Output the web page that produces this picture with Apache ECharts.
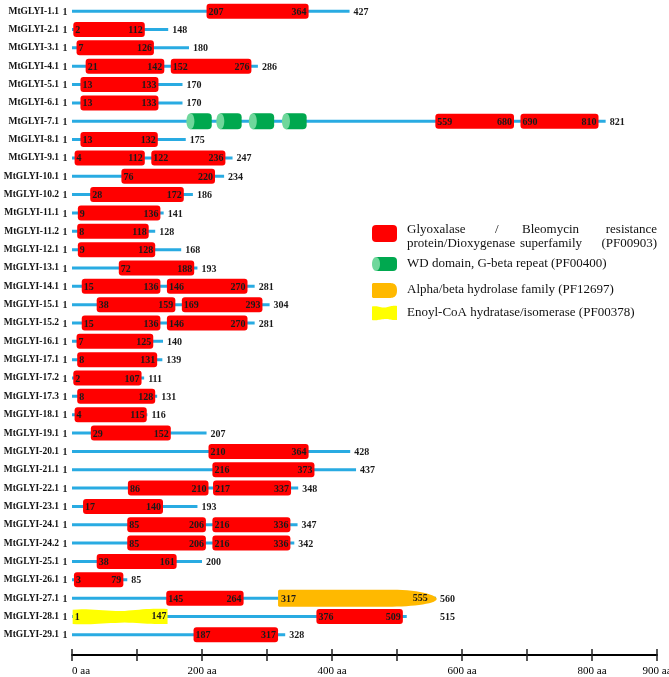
<!DOCTYPE html>
<html>
<head>
<meta charset="utf-8">
<script src="https://cdn.jsdelivr.net/npm/echarts@6/dist/echarts.min.js"></script>
<style>html,body{margin:0;padding:0;background:#fff;}#chart{width:669px;height:677px;}</style>
</head>
<body>
<div id="chart"></div>
<script>
// ---------- data ----------
const proteins = ['MtGLYI-1.1','MtGLYI-2.1','MtGLYI-3.1','MtGLYI-4.1','MtGLYI-5.1','MtGLYI-6.1','MtGLYI-7.1','MtGLYI-8.1','MtGLYI-9.1','MtGLYI-10.1','MtGLYI-10.2','MtGLYI-11.1','MtGLYI-11.2','MtGLYI-12.1','MtGLYI-13.1','MtGLYI-14.1','MtGLYI-15.1','MtGLYI-15.2','MtGLYI-16.1','MtGLYI-17.1','MtGLYI-17.2','MtGLYI-17.3','MtGLYI-18.1','MtGLYI-19.1','MtGLYI-20.1','MtGLYI-21.1','MtGLYI-22.1','MtGLYI-23.1','MtGLYI-24.1','MtGLYI-24.2','MtGLYI-25.1','MtGLYI-26.1','MtGLYI-27.1','MtGLYI-28.1','MtGLYI-29.1'];
const lengths = [427,148,180,286,170,170,821,175,247,234,186,141,128,168,193,281,304,281,140,139,111,131,116,207,428,437,348,193,347,342,200,85,560,515,328];
// where the length label sits (aa), when it differs from the length itself
const lengthLabelAt = {'MtGLYI-28.1': 560};
const glyoxalaseDomains = [
  ['MtGLYI-1.1',207,364],['MtGLYI-2.1',2,112],['MtGLYI-3.1',7,126],
  ['MtGLYI-4.1',21,142],['MtGLYI-4.1',152,276],['MtGLYI-5.1',13,133],['MtGLYI-6.1',13,133],
  ['MtGLYI-7.1',559,680],['MtGLYI-7.1',690,810],['MtGLYI-8.1',13,132],
  ['MtGLYI-9.1',4,112],['MtGLYI-9.1',122,236],['MtGLYI-10.1',76,220],['MtGLYI-10.2',28,172],
  ['MtGLYI-11.1',9,136],['MtGLYI-11.2',8,118],['MtGLYI-12.1',9,128],['MtGLYI-13.1',72,188],
  ['MtGLYI-14.1',15,136],['MtGLYI-14.1',146,270],['MtGLYI-15.1',38,159],['MtGLYI-15.1',169,293],
  ['MtGLYI-15.2',15,136],['MtGLYI-15.2',146,270],['MtGLYI-16.1',7,125],['MtGLYI-17.1',8,131],
  ['MtGLYI-17.2',2,107],['MtGLYI-17.3',8,128],['MtGLYI-18.1',4,115],['MtGLYI-19.1',29,152],
  ['MtGLYI-20.1',210,364],['MtGLYI-21.1',216,373],['MtGLYI-22.1',86,210],['MtGLYI-22.1',217,337],
  ['MtGLYI-23.1',17,140],['MtGLYI-24.1',85,206],['MtGLYI-24.1',216,336],['MtGLYI-24.2',85,206],
  ['MtGLYI-24.2',216,336],['MtGLYI-25.1',38,161],['MtGLYI-26.1',3,79],['MtGLYI-27.1',145,264],
  ['MtGLYI-28.1',376,509],['MtGLYI-29.1',187,317]
];
const wdDomains = [['MtGLYI-7.1',176,215],['MtGLYI-7.1',222,261],['MtGLYI-7.1',272,311],['MtGLYI-7.1',323,361]];
const hydrolaseDomains = [['MtGLYI-27.1',317,555]];
const enoylDomains = [['MtGLYI-28.1',1,147]];
const axisTicks = [0,100,200,300,400,500,600,700,800,900];
const axisLabelled = [0,200,400,600,800,900];
const legendNames = ['Glyoxalase / Bleomycin resistance protein/Dioxygenase superfamily (PF00903)','WD domain, G-beta repeat (PF00400)','Alpha/beta hydrolase family (PF12697)','Enoyl-CoA hydratase/isomerase (PF00378)'];

// ---------- styles ----------
const SERIF = '"Liberation Serif","Times New Roman",serif';
const LBL_FONT = 'bold 10px ' + SERIF;
const RED = '#ff0000', GREEN = '#00a84f', GREEN_L = '#6fd79b', ORANGE = '#ffb900', YELLOW = '#ffff00', LINE = '#29abe2';
const BAR_H = 15;

// ---------- shape helpers ----------
function bez(p0, p1, p2, p3, n) {
  const pts = [];
  for (let i = 0; i <= n; i++) {
    const t = i / n, u = 1 - t;
    pts.push([
      u*u*u*p0[0] + 3*u*u*t*p1[0] + 3*u*t*t*p2[0] + t*t*t*p3[0],
      u*u*u*p0[1] + 3*u*u*t*p1[1] + 3*u*t*t*p2[1] + t*t*t*p3[1]
    ]);
  }
  return pts;
}
function bulletPts(x0, x1, cy, h, frac, round) {
  const top = cy - h/2, bot = cy + h/2;
  const xa = x0 + frac * (x1 - x0);
  const tip = x1;
  const k = round ? 0.55 : 0.2;
  let pts = [[x0 + 1, top], [xa, top]];
  pts = pts.concat(bez([xa, top], [xa + (tip - xa)*0.55, top], [tip, cy - h*k], [tip, cy + (round ? 0 : 1)], 14));
  pts = pts.concat(bez([tip, cy + (round ? 0 : 1)], [tip, cy + h*(round ? 0.55 : 0.3)], [xa + (tip - xa)*0.5, bot], [xa, bot], 14));
  pts.push([x0 + 1, bot], [x0, bot - 1], [x0, top + 1]);
  return pts;
}
function wavePts(x0, x1, cy, h, amp) {
  const top = cy - h/2, bot = cy + h/2, w = x1 - x0;
  const a = amp;
  let pts = [];
  pts = pts.concat(bez([x0, top + 0.5*a], [x0 + w*0.2, top - 0.7*a], [x0 + w*0.35, top + 1.8*a], [x0 + w*0.55, top + 1.2*a], 12));
  pts = pts.concat(bez([x0 + w*0.55, top + 1.2*a], [x0 + w*0.7, top + 0.5*a], [x0 + w*0.85, top - 0.7*a], [x1, top], 12));
  pts.push([x1, bot]);
  pts = pts.concat(bez([x1, bot], [x0 + w*0.8, bot + 0.5*a], [x0 + w*0.7, bot - 1.2*a], [x0 + w*0.5, bot - 0.8*a], 12));
  pts = pts.concat(bez([x0 + w*0.5, bot - 0.8*a], [x0 + w*0.3, bot - 0.4*a], [x0 + w*0.15, bot + 0.7*a], [x0, bot], 12));
  return pts;
}
function cylinderEls(x0, x1, cy, h) {
  const rx = 4;
  return [
    {type: 'rect', shape: {x: x0 + rx, y: cy - h/2, width: x1 - x0 - rx, height: h, r: [0, rx, rx, 0]}, style: {fill: GREEN}},
    {type: 'ellipse', shape: {cx: x0 + rx, cy: cy, rx: rx, ry: h/2}, style: {fill: GREEN_L}}
  ];
}
function txt(text, x, y, align, font) {
  return {type: 'text', style: {text: text, x: x, y: y, align: align, verticalAlign: 'middle', font: font || LBL_FONT, fill: '#1a1a1a'}};
}

// ---------- series data ----------
const rowIndex = {};
proteins.forEach((p, i) => rowIndex[p] = i);
const backboneData = proteins.map((p, i) => [0, lengths[i], i, lengthLabelAt[p] != null ? lengthLabelAt[p] : lengths[i]]);
const toData = arr => arr.map(d => [d[1], d[2], rowIndex[d[0]]]);

function renderBackbone(params, api) {
  const row = api.value(2);
  const s = api.coord([0, row]);
  const e = api.coord([api.value(1), row]);
  const l = api.coord([api.value(3), row]);
  return {type: 'group', children: [
    {type: 'line', shape: {x1: s[0], y1: s[1], x2: e[0], y2: e[1]}, style: {stroke: LINE, lineWidth: 3}},
    txt('1', s[0] - 7, s[1] + 1, 'center'),
    txt(String(api.value(1)), l[0] + 4, l[1] + 1, 'left')
  ]};
}
function makeDomainRenderer(kind) {
  return function (params, api) {
    const row = api.value(2);
    const a = api.value(0), b = api.value(1);
    const s = api.coord([a, row]);
    const e = api.coord([b, row]);
    const cy = s[1];
    const h = BAR_H;
    const children = [];
    if (kind === 'red') {
      children.push({type: 'rect', shape: {x: s[0], y: cy - h/2, width: e[0] - s[0], height: h, r: 3}, style: {fill: RED}});
      children.push(txt(String(a), s[0] + 2, cy + 1, 'left'));
      children.push(txt(String(b), e[0] - 2, cy + 1, 'right'));
    } else if (kind === 'green') {
      cylinderEls(s[0], e[0], cy, h + 1).forEach(c => children.push(c));
    } else if (kind === 'orange') {
      const tipX = api.coord([b + 6, row])[0];
      children.push({type: 'polygon', shape: {points: bulletPts(s[0], tipX, cy, h + 2, 0.72, false)}, style: {fill: ORANGE}});
      children.push(txt(String(a), s[0] + 3, cy + 1, 'left'));
      children.push(txt(String(b), e[0] - 5, cy, 'right'));
    } else if (kind === 'yellow') {
      children.push({type: 'polygon', shape: {points: wavePts(s[0], e[0], cy, h, 1.6)}, style: {fill: YELLOW}});
      children.push(txt(String(a), s[0] + 2, cy + 1, 'left'));
      children.push(txt(String(b), e[0] - 1, cy, 'right'));
    }
    return {type: 'group', children: children};
  };
}
function domainSeries(name, data, kind) {
  return {
    name: name, type: 'custom', xAxisIndex: 0, yAxisIndex: 0,
    renderItem: makeDomainRenderer(kind), data: toData(data),
    encode: {x: [0, 1], y: 2}, clip: false, silent: true
  };
}

// ---------- legend (graphic) ----------
const LEG_FONT = '13px ' + SERIF;
const lx0 = 372, lx1 = 397, tx = 407;
function legText(text, x, y, align) {
  return {type: 'text', style: {text: text, x: x, y: y, align: align || 'left', verticalAlign: 'middle', font: LEG_FONT, fill: '#111'}};
}
const legendGraphic = [
  {type: 'rect', shape: {x: lx0, y: 225, width: lx1 - lx0, height: 17, r: 4}, style: {fill: RED}},
  legText('Glyoxalase', tx, 230),
  legText('/', 495, 230),
  legText('Bleomycin', 522, 230),
  legText('resistance', 657, 230, 'right'),
  legText('protein/Dioxygenase', tx, 244),
  legText('superfamily', 520, 244),
  legText('(PF00903)', 657, 244, 'right'),
  ...cylinderEls(lx0, lx1, 264, 14),
  legText(legendNames[1], tx, 264),
  {type: 'polygon', shape: {points: bulletPts(lx0, lx1, 290.5, 15, 0.55, true)}, style: {fill: ORANGE}},
  legText(legendNames[2], tx, 290),
  {type: 'polygon', shape: {points: wavePts(lx0, lx1, 313, 14, 1.2)}, style: {fill: YELLOW}},
  legText(legendNames[3], tx, 313)
];

// ---------- chart ----------
const chart = echarts.init(document.getElementById('chart'), null, {renderer: 'canvas'});
const xBase = {
  type: 'value', min: 0, max: 900, interval: 100, position: 'bottom', offset: 11,
  splitLine: {show: false}
};
chart.setOption({
  animation: false,
  backgroundColor: '#fff',
  grid: {left: 72, right: 12, top: 2, bottom: 33, containLabel: false, outerBoundsMode: 'none'},
  xAxis: [
    Object.assign({}, xBase, {
      axisLine: {show: true, lineStyle: {color: '#000', width: 2}},
      axisTick: {show: true, length: 6, lineStyle: {color: '#222', width: 1.5}},
      axisLabel: {
        margin: 11, fontFamily: SERIF, fontSize: 11, color: '#000', alignMinLabel: 'left',
        formatter: v => axisLabelled.indexOf(v) >= 0 && axisTicks.indexOf(v) >= 0 ? v + ' aa' : ''
      }
    }),
    Object.assign({}, xBase, {
      axisLine: {show: false},
      axisTick: {show: true, inside: true, length: 6, lineStyle: {color: '#222', width: 1.5}},
      axisLabel: {show: false}
    })
  ],
  yAxis: {
    type: 'category', data: proteins, inverse: true,
    axisLine: {show: false}, axisTick: {show: false}, splitLine: {show: false},
    axisLabel: {margin: 13, fontFamily: SERIF, fontWeight: 'bold', fontSize: 9.5, color: '#111'}
  },
  graphic: legendGraphic,
  series: [
    {name: 'backbone', type: 'custom', xAxisIndex: 0, yAxisIndex: 0, renderItem: renderBackbone,
     data: backboneData, encode: {x: [0, 1], y: 2}, clip: false, silent: true},
    domainSeries('PF00400', wdDomains, 'green'),
    domainSeries('PF12697', hydrolaseDomains, 'orange'),
    domainSeries('PF00378', enoylDomains, 'yellow'),
    domainSeries('PF00903', glyoxalaseDomains, 'red')
  ]
});
</script>
</body>
</html>
